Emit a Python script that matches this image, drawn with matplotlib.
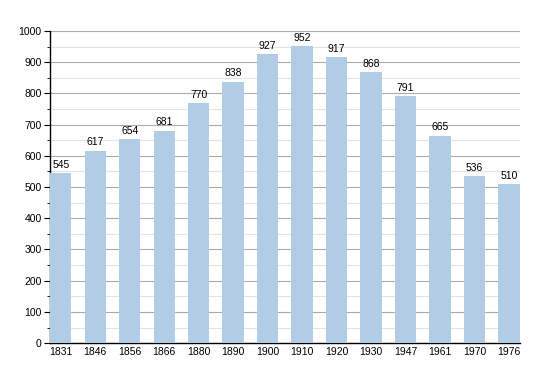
import numpy as np
import matplotlib.pyplot as plt
from matplotlib.ticker import MultipleLocator

plt.rcParams['font.family'] = ['Liberation Sans', 'DejaVu Sans']

years = ['1831', '1846', '1856', '1866', '1880', '1890', '1900',
         '1910', '1920', '1930', '1947', '1961', '1970', '1976']
population = [545, 617, 654, 681, 770, 838, 927, 952, 917, 868, 791, 665, 536, 510]

fig = plt.figure(figsize=(5.5, 3.73), dpi=100)
ax = fig.add_axes([0.091, 0.080, 0.854, 0.837])

ind = np.arange(len(years))
width = 0.62
bars = ax.bar(ind, population, width, color='#b3cce6', zorder=3)

ax.set_xlim(-width / 2, len(years) - 1 + width / 2)
ax.set_ylim(0, 1000)
ax.yaxis.set_major_locator(MultipleLocator(100))
ax.yaxis.set_minor_locator(MultipleLocator(50))
ax.grid(axis='y', which='major', color='#ababab', linewidth=0.8, zorder=0)
ax.grid(axis='y', which='minor', color='#e3e3e3', linewidth=0.8, zorder=0)

ax.set_xticks(ind)
ax.set_xticklabels(years)
ax.tick_params(axis='x', length=0, labelsize=7.5, pad=3)
ax.tick_params(axis='y', which='major', length=4, labelsize=7.5, pad=2)
ax.tick_params(axis='y', which='minor', length=2)

for s in ['top', 'right']:
    ax.spines[s].set_visible(False)
ax.spines['left'].set_linewidth(1)
ax.spines['bottom'].set_linewidth(1)

for r in bars:
    h = r.get_height()
    ax.text(r.get_x() + r.get_width() / 2., h + 10, '%d' % int(h),
            ha='center', va='bottom', fontsize=7.5)

plt.savefig('out.png', dpi=100)
plt.close()
